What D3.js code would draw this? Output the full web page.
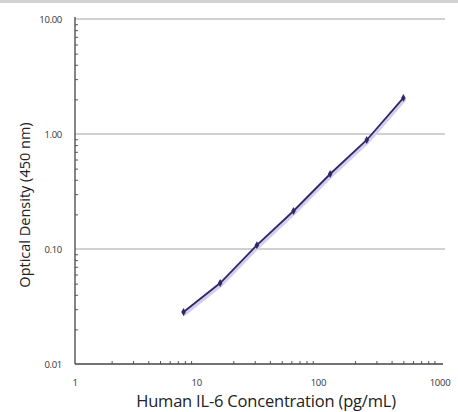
<!DOCTYPE html>
<html><head><meta charset="utf-8">
<script src="https://cdn.jsdelivr.net/npm/d3@7"></script>
<style>body{margin:0;background:#fff}svg{display:block}</style>
</head><body>
<svg id="c" width="458" height="412"></svg>
<script>
const concentrations = [7.8, 15.6, 31.25, 62.5, 125, 250, 500];
const odValues = [0.0283, 0.0506, 0.108, 0.214, 0.449, 0.887, 2.06];
const yTickValues = [0.01, 0.1, 1, 10];
const yTickLabels = ["0.01", "0.10", "1.00", "10.00"];
const xTickValues = [1, 10, 100, 1000];
const xTickLabels = ["1", "10", "100", "1000"];
const xTitle = "Human IL-6 Concentration (pg/mL)";
const yTitle = "Optical Density (450 nm)";

const svg = d3.select("#c");
const L = 75, R = 440, T = 19, B = 364;
const x = d3.scaleLog().domain([1, 1000]).range([L, R]);
const y = d3.scaleLog().domain([0.01, 10]).range([B, T]);

svg.append("rect").attr("x",0).attr("y",0).attr("width",458).attr("height",3).attr("fill","#d2d2d2");

// gridlines
svg.append("g").selectAll("line").data([0.1, 1, 10]).join("line")
  .attr("x1", L).attr("x2", 445).attr("y1", d=>y(d)).attr("y2", d=>y(d))
  .attr("stroke", "#c2c2c2").attr("stroke-width", 1.5);

// minor ticks
const minorY = [];
for (let e = -2; e < 1; e++) for (let m = 2; m <= 9; m++) minorY.push(m * Math.pow(10, e));
const minorX = [];
for (let e = 0; e < 3; e++) for (let m = 2; m <= 9; m++) minorX.push(m * Math.pow(10, e));

const yAxis = svg.append("g").attr("transform", `translate(${L},0)`)
  .call(d3.axisRight(y).tickValues(minorY).tickSize(3).tickFormat(""));
yAxis.select(".domain").remove();
yAxis.selectAll("line").attr("stroke","#555");

const xAxisMinor = svg.append("g").attr("transform", `translate(0,${B})`)
  .call(d3.axisTop(x).tickValues(minorX).tickSize(3).tickFormat(""));
xAxisMinor.select(".domain").remove();
xAxisMinor.selectAll("line").attr("stroke","#555");

// axis lines
svg.append("line").attr("x1",L).attr("x2",L).attr("y1",T-2).attr("y2",B).attr("stroke","#444").attr("stroke-width",1.3);
svg.append("line").attr("x1",L).attr("x2",x(1000)+3).attr("y1",B).attr("y2",B).attr("stroke","#444").attr("stroke-width",1.3);

// tick labels
svg.append("g").selectAll("text").data(yTickValues).join("text")
  .attr("x", 62).attr("y", d=>y(d)+3.5).attr("text-anchor","end")
  .attr("font-family","Open Sans, sans-serif").attr("font-size",9.5).attr("letter-spacing",-0.3).attr("fill","#333")
  .text((d,i)=>yTickLabels[i]);
svg.append("g").selectAll("text").data(xTickValues).join("text")
  .attr("x", d=>x(d)).attr("y", 386).attr("text-anchor","middle")
  .attr("font-family","Open Sans, sans-serif").attr("font-size",9.5).attr("letter-spacing",-0.3).attr("fill","#333")
  .text((d,i)=>xTickLabels[i]);

// titles
svg.append("text").attr("x", 266).attr("y", 407).attr("text-anchor","middle")
  .attr("font-family","Open Sans, sans-serif").attr("font-size",16.5).attr("letter-spacing",-0.2).attr("fill","#222").text(xTitle);
svg.append("text").attr("transform","translate(30,205) rotate(-90)").attr("text-anchor","middle")
  .attr("font-family","Open Sans, sans-serif").attr("font-size",14.5).attr("fill","#222").text(yTitle);

// series
const pts = concentrations.map((c,i)=>[c, odValues[i]]);
const line = d3.line().x(d=>x(d[0])).y(d=>y(d[1]));
svg.append("path").datum(pts).attr("d", line).attr("transform","translate(1,2)")
  .attr("fill","none").attr("stroke","#d4cdee").attr("stroke-width",3.5).attr("stroke-linecap","round");
svg.append("path").datum(pts).attr("d", line)
  .attr("fill","none").attr("stroke","#2e2966").attr("stroke-width",1.8);
svg.append("g").selectAll("path").data(pts).join("path")
  .attr("d", d3.symbol(d3.symbolDiamond, 18))
  .attr("transform", d=>`translate(${x(d[0])},${y(d[1])})`)
  .attr("fill","#2e2966");
</script>
</body></html>
